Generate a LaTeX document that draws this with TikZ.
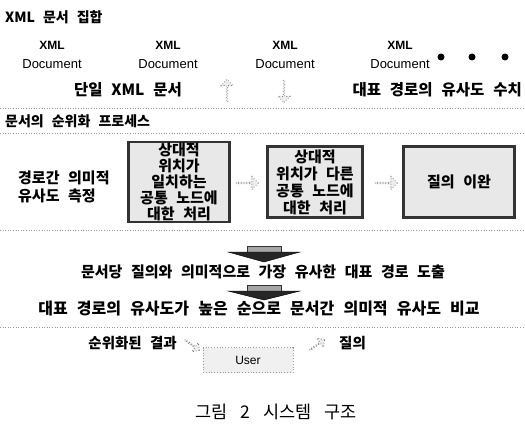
\documentclass[tikz,border=0pt]{standalone}
\usepackage{fontspec}
\usetikzlibrary{shapes.arrows}
\newfontfamily\kr[WordSpace={2.5,0,0}]{Noto Sans CJK KR}
\newfontfamily\lat{Liberation Sans}
\begin{document}
\begin{tikzpicture}[x=1pt,y=-1pt,
  txt/.style={inner sep=0pt,font=\kr\bfseries\fontsize{14}{16}\selectfont},
  mtxt/.style={inner sep=0pt,font=\kr\bfseries\fontsize{15}{17}\selectfont},
  doc/.style={inner sep=0pt,font=\lat\fontsize{13}{15}\selectfont},
  sep/.style={draw=black!40,dotted,line width=0.6pt},
  procbox/.style={draw=black!80,line width=2.4pt,fill=black!9,inner sep=0pt,align=center},
  hollow/.style={single arrow,draw=black!55,dotted,fill=black!7,line width=0.8pt,
    single arrow head extend=3pt,inner sep=0pt},
  chev/.style={fill=black!85,draw=black},
  stem/.style={fill=black!35,draw=black!80,line width=0.5pt}]
\useasboundingbox (0,0) rectangle (525,428);
% top section
\node[txt,anchor=west] (title1) at (5,17) {XML 문서 집합};
\foreach \i/\x in {1/52,2/168,3/285,4/400}{
  \node[doc,font=\lat\bfseries\fontsize{12}{14}\selectfont] (xml\i) at (\x,45) {XML};
  \node[doc] (doc\i) at (\x,64) {Document};
}
\foreach \i/\x in {1/441,2/472,3/505}{
  \node[circle,fill=black,inner sep=0pt,minimum size=7pt] (dot\i) at (\x,57) {};
}
\node[mtxt,font=\kr\bfseries\fontsize{15.5}{17}\selectfont] (single) at (128,90) {단일 XML 문서};
\node[hollow,rotate=90,minimum height=22pt,minimum width=12pt] (up) at (227,91) {};
\node[hollow,rotate=-90,minimum height=22pt,minimum width=12pt] (down) at (284,91) {};
\node[mtxt,font=\kr\bfseries\fontsize{15.5}{17}\selectfont,anchor=east] (simval) at (522,90) {대표 경로의 유사도 수치};
\draw[sep] (0,108) -- (525,108);
% process section
\node[txt,anchor=west] (title2) at (5,121) {문서의 순위화 프로세스};
\draw[sep] (0,133) -- (525,133);
\node[inner sep=0pt,anchor=west,align=left,font=\kr\bfseries\fontsize{15}{18}\selectfont] (meas) at (18,187) {경로간 의미적\\유사도 측정};
\node[procbox,minimum width=101pt,minimum height=80pt,font=\kr\bfseries\fontsize{15}{16}\selectfont] (b1) at (179,182)
  {상대적\\위치가\\일치하는\\공통 노드에\\대한 처리};
\node[procbox,minimum width=95pt,minimum height=71pt,font=\kr\bfseries\fontsize{15}{17}\selectfont] (b2) at (315,182)
  {상대적\\위치가 다른\\공통 노드에\\대한 처리};
\node[procbox,minimum width=111pt,minimum height=71pt,font=\kr\bfseries\fontsize{15}{17}\selectfont] (b3) at (459,182) {질의 이완};
\node[hollow,minimum height=22pt,minimum width=13pt] (a12) at (247,183) {};
\node[hollow,minimum height=22pt,minimum width=13pt] (a23) at (386,183) {};
\draw[sep] (0,230) -- (525,230);
% chevron 1
\coordinate (c1) at (264,246);
\draw[stem] ([xshift=-17pt]c1) rectangle ([xshift=17pt,yshift=-6pt]c1);
\draw[chev] ([xshift=-36pt,yshift=-6pt]c1) -- ([xshift=36pt,yshift=-6pt]c1) -- ([yshift=-16pt]c1) -- cycle;
\node[mtxt] (t1) at (263,272) {문서당 질의와 의미적으로 가장 유사한 대표 경로 도출};
% chevron 2
\coordinate (c2) at (264,285);
\draw[stem] ([xshift=-17pt]c2) rectangle ([xshift=17pt,yshift=-6pt]c2);
\draw[chev] ([xshift=-36pt,yshift=-6pt]c2) -- ([xshift=36pt,yshift=-6pt]c2) -- ([yshift=-15pt]c2) -- cycle;
\node[mtxt,font=\kr\bfseries\fontsize{16}{18}\selectfont] (t2) at (259,309) {대표 경로의 유사도가 높은 순으로 문서간 의미적 유사도 비교};
\draw[sep] (0,327) -- (525,327);
% user section
\node[mtxt,font=\kr\bfseries\fontsize{14.5}{16}\selectfont,anchor=east] (res) at (177,343) {순위화된 결과};
\node[draw=black!40,dotted,line width=0.8pt,fill=black!6,minimum width=90pt,minimum height=25pt,
  font=\lat\fontsize{12}{14}\selectfont] (user) at (248,360) {User};
\node[hollow,rotate=-35,minimum height=18pt,minimum width=11pt] (ar1) at (192,345) {};
\node[hollow,rotate=35,minimum height=18pt,minimum width=11pt] (ar2) at (317,345) {};
\node[mtxt,font=\kr\bfseries\fontsize{14.5}{16}\selectfont,anchor=west] (query) at (339,343) {질의};
\node[inner sep=0pt,font=\kr\fontsize{17.5}{19}\selectfont] (cap) at (276,412) {그림\hspace{0.75em}2\hspace{0.75em}시스템\hspace{0.75em}구조};
\end{tikzpicture}
\end{document}
